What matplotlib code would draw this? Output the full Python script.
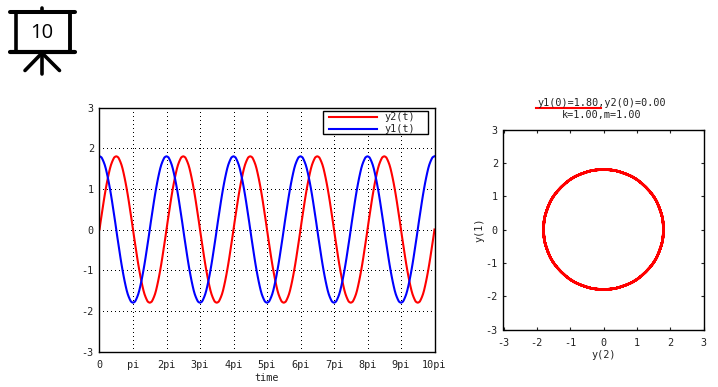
import numpy as np
import matplotlib
matplotlib.use("Agg")
import matplotlib.pyplot as plt
from matplotlib.lines import Line2D
from matplotlib.patches import Rectangle

y1_values = [
 1.80,1.79,1.77,1.72,1.66,1.59,1.50,1.39,1.27,1.14,1.00,0.85,0.69,0.52,0.35,0.18,
 0.00,-0.18,-0.35,-0.52,-0.69,-0.85,-1.00,-1.14,-1.27,-1.39,-1.50,-1.59,-1.66,-1.72,-1.77,-1.79,
 -1.80,-1.79,-1.77,-1.72,-1.66,-1.59,-1.50,-1.39,-1.27,-1.14,-1.00,-0.85,-0.69,-0.52,-0.35,-0.18,
 0.00,0.18,0.35,0.52,0.69,0.85,1.00,1.14,1.27,1.39,1.50,1.59,1.66,1.72,1.77,1.79,
 1.80,1.79,1.77,1.72,1.66,1.59,1.50,1.39,1.27,1.14,1.00,0.85,0.69,0.52,0.35,0.18,
 0.00,-0.18,-0.35,-0.52,-0.69,-0.85,-1.00,-1.14,-1.27,-1.39,-1.50,-1.59,-1.66,-1.72,-1.77,-1.79,
 -1.80,-1.79,-1.77,-1.72,-1.66,-1.59,-1.50,-1.39,-1.27,-1.14,-1.00,-0.85,-0.69,-0.52,-0.35,-0.18,
 0.00,0.18,0.35,0.52,0.69,0.85,1.00,1.14,1.27,1.39,1.50,1.59,1.66,1.72,1.77,1.79,
 1.80,1.79,1.77,1.72,1.66,1.59,1.50,1.39,1.27,1.14,1.00,0.85,0.69,0.52,0.35,0.18,
 0.00,-0.18,-0.35,-0.52,-0.69,-0.85,-1.00,-1.14,-1.27,-1.39,-1.50,-1.59,-1.66,-1.72,-1.77,-1.79,
 -1.80,-1.79,-1.77,-1.72,-1.66,-1.59,-1.50,-1.39,-1.27,-1.14,-1.00,-0.85,-0.69,-0.52,-0.35,-0.18,
 0.00,0.18,0.35,0.52,0.69,0.85,1.00,1.14,1.27,1.39,1.50,1.59,1.66,1.72,1.77,1.79,
 1.80,1.79,1.77,1.72,1.66,1.59,1.50,1.39,1.27,1.14,1.00,0.85,0.69,0.52,0.35,0.18,
 0.00,-0.18,-0.35,-0.52,-0.69,-0.85,-1.00,-1.14,-1.27,-1.39,-1.50,-1.59,-1.66,-1.72,-1.77,-1.79,
 -1.80,-1.79,-1.77,-1.72,-1.66,-1.59,-1.50,-1.39,-1.27,-1.14,-1.00,-0.85,-0.69,-0.52,-0.35,-0.18,
 0.00,0.18,0.35,0.52,0.69,0.85,1.00,1.14,1.27,1.39,1.50,1.59,1.66,1.72,1.77,1.79,
 1.80,1.79,1.77,1.72,1.66,1.59,1.50,1.39,1.27,1.14,1.00,0.85,0.69,0.52,0.35,0.18,
 0.00,-0.18,-0.35,-0.52,-0.69,-0.85,-1.00,-1.14,-1.27,-1.39,-1.50,-1.59,-1.66,-1.72,-1.77,-1.79,
 -1.80,-1.79,-1.77,-1.72,-1.66,-1.59,-1.50,-1.39,-1.27,-1.14,-1.00,-0.85,-0.69,-0.52,-0.35,-0.18,
 0.00,0.18,0.35,0.52,0.69,0.85,1.00,1.14,1.27,1.39,1.50,1.59,1.66,1.72,1.77,1.79,
 1.80]
y2_values = [
 0.00,0.18,0.35,0.52,0.69,0.85,1.00,1.14,1.27,1.39,1.50,1.59,1.66,1.72,1.77,1.79,
 1.80,1.79,1.77,1.72,1.66,1.59,1.50,1.39,1.27,1.14,1.00,0.85,0.69,0.52,0.35,0.18,
 0.00,-0.18,-0.35,-0.52,-0.69,-0.85,-1.00,-1.14,-1.27,-1.39,-1.50,-1.59,-1.66,-1.72,-1.77,-1.79,
 -1.80,-1.79,-1.77,-1.72,-1.66,-1.59,-1.50,-1.39,-1.27,-1.14,-1.00,-0.85,-0.69,-0.52,-0.35,-0.18,
 0.00,0.18,0.35,0.52,0.69,0.85,1.00,1.14,1.27,1.39,1.50,1.59,1.66,1.72,1.77,1.79,
 1.80,1.79,1.77,1.72,1.66,1.59,1.50,1.39,1.27,1.14,1.00,0.85,0.69,0.52,0.35,0.18,
 0.00,-0.18,-0.35,-0.52,-0.69,-0.85,-1.00,-1.14,-1.27,-1.39,-1.50,-1.59,-1.66,-1.72,-1.77,-1.79,
 -1.80,-1.79,-1.77,-1.72,-1.66,-1.59,-1.50,-1.39,-1.27,-1.14,-1.00,-0.85,-0.69,-0.52,-0.35,-0.18,
 0.00,0.18,0.35,0.52,0.69,0.85,1.00,1.14,1.27,1.39,1.50,1.59,1.66,1.72,1.77,1.79,
 1.80,1.79,1.77,1.72,1.66,1.59,1.50,1.39,1.27,1.14,1.00,0.85,0.69,0.52,0.35,0.18,
 0.00,-0.18,-0.35,-0.52,-0.69,-0.85,-1.00,-1.14,-1.27,-1.39,-1.50,-1.59,-1.66,-1.72,-1.77,-1.79,
 -1.80,-1.79,-1.77,-1.72,-1.66,-1.59,-1.50,-1.39,-1.27,-1.14,-1.00,-0.85,-0.69,-0.52,-0.35,-0.18,
 0.00,0.18,0.35,0.52,0.69,0.85,1.00,1.14,1.27,1.39,1.50,1.59,1.66,1.72,1.77,1.79,
 1.80,1.79,1.77,1.72,1.66,1.59,1.50,1.39,1.27,1.14,1.00,0.85,0.69,0.52,0.35,0.18,
 0.00,-0.18,-0.35,-0.52,-0.69,-0.85,-1.00,-1.14,-1.27,-1.39,-1.50,-1.59,-1.66,-1.72,-1.77,-1.79,
 -1.80,-1.79,-1.77,-1.72,-1.66,-1.59,-1.50,-1.39,-1.27,-1.14,-1.00,-0.85,-0.69,-0.52,-0.35,-0.18,
 0.00,0.18,0.35,0.52,0.69,0.85,1.00,1.14,1.27,1.39,1.50,1.59,1.66,1.72,1.77,1.79,
 1.80,1.79,1.77,1.72,1.66,1.59,1.50,1.39,1.27,1.14,1.00,0.85,0.69,0.52,0.35,0.18,
 0.00,-0.18,-0.35,-0.52,-0.69,-0.85,-1.00,-1.14,-1.27,-1.39,-1.50,-1.59,-1.66,-1.72,-1.77,-1.79,
 -1.80,-1.79,-1.77,-1.72,-1.66,-1.59,-1.50,-1.39,-1.27,-1.14,-1.00,-0.85,-0.69,-0.52,-0.35,-0.18,
 0.00]
x_tick_labels = ["0","pi","2pi","3pi","4pi","5pi","6pi","7pi","8pi","9pi","10pi"]
y_ticks = [-3,-2,-1,0,1,2,3]

W, H = 718, 387
plt.rcParams["font.family"] = "DejaVu Sans Mono"
plt.rcParams["font.size"] = 7.3
plt.rcParams["axes.unicode_minus"] = False
plt.rcParams["path.simplify"] = False
fig = plt.figure(figsize=(W/100, H/100), dpi=100)

def px_axes(x0, y0, x1, y1):
    return fig.add_axes([x0/W, 1-y1/H, (x1-x0)/W, (y1-y0)/H])

t = np.linspace(0, 10*np.pi, len(y1_values))

ax = px_axes(99.5, 107.5, 434.5, 351.5)
ax.plot(t, y2_values, color="#ff0000", lw=1.5)
ax.plot(t, y1_values, color="#0000ff", lw=1.5)
ax.set_xlim(0, 10*np.pi)
ax.set_ylim(-3, 3)
ax.set_xticks(np.arange(len(x_tick_labels))*np.pi)
ax.set_xticklabels(x_tick_labels)
ax.set_yticks(y_ticks)
ax.grid(True, color="black", ls=(0, (1, 3)), lw=0.72, antialiased=False)
ax.tick_params(length=0, colors="#222222")
ax.tick_params(axis="x", pad=6)
ax.tick_params(axis="y", pad=4)
ax.set_xlabel("time", labelpad=2.5, color="#222222")
for s in ax.spines.values():
    s.set_linewidth(1.0)

ax2 = px_axes(503.5, 129.5, 703.5, 329.5)
ax2.plot(y2_values, y1_values, color="#ff0000", lw=1.8)
ax2.set_xlim(-3, 3)
ax2.set_ylim(-3, 3)
ax2.set_xticks(y_ticks)
ax2.set_yticks(y_ticks)
ax2.tick_params(direction="in", length=2, width=0.8, top=True, right=True, colors="#222222")
ax2.tick_params(axis="x", pad=6)
ax2.tick_params(axis="y", pad=4)
ax2.set_xlabel("y(2)", labelpad=1.5, color="#222222")
ax2.set_ylabel("y(1)", labelpad=1, color="#222222")
for s in ax2.spines.values():
    s.set_linewidth(1.0)

# overlay in pixel coordinates for legend, title and icon
ov = fig.add_axes([0, 0, 1, 1], zorder=5)
ov.set_xlim(0, W)
ov.set_ylim(H, 0)
ov.axis("off")
ov.patch.set_alpha(0)

ov.add_patch(Rectangle((322.5, 110.5), 105, 23, fc="white", ec="black", lw=1.0))
ov.add_line(Line2D([329, 377], [117, 117], color="#ff0000", lw=1.5))
ov.add_line(Line2D([329, 377], [128.5, 128.5], color="#0000ff", lw=1.5))
ov.text(384, 117, "y2(t)", va="center", ha="left", color="#222222")
ov.text(384, 129, "y1(t)", va="center", ha="left", color="#222222")

ov.text(602, 102.5, "y1(0)=1.80,y2(0)=0.00", ha="center", va="center", color="#222222")
ov.text(602, 115, "k=1.00,m=1.00", ha="center", va="center", color="#222222")
ov.add_line(Line2D([536, 601], [107.5, 107.5], color="#ff0000", lw=1.5))

# presentation-board icon
def stroke(xs, ys, lw):
    ov.add_line(Line2D(xs, ys, color="black", lw=lw, solid_capstyle="round"))
stroke([9.5, 75], [12, 12], 2.9)
stroke([9.5, 75], [52, 52], 3.0)
stroke([16, 16], [12, 52], 2.6)
stroke([69.7, 69.7], [12, 52], 2.8)
stroke([42, 42], [8, 11], 2.6)
stroke([42, 42], [53, 73.5], 2.6)
stroke([42, 25], [53, 70.5], 2.6)
stroke([42, 59.5], [53, 70.5], 2.6)
ov.text(41.7, 33, "10", ha="center", va="center", family="Open Sans", fontsize=14.5, color="black")

fig.savefig("out.png", dpi=100)
